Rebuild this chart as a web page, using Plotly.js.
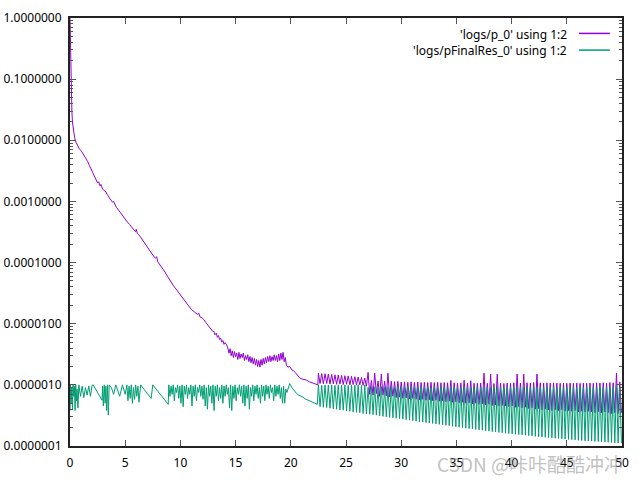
<!DOCTYPE html>
<html><head><meta charset="utf-8">
<script src="https://cdn.plot.ly/plotly-3.0.1.min.js"></script>
<style>html,body{margin:0;padding:0;background:#fff}#chart{width:640px;height:480px}</style>
</head><body><div id="chart"></div>
<script>
// ---- series 1: 'logs/p_0' (first part, t = 0 .. 22.45)
const pX1 = [
0,0.02,0.04,0.06,0.08,0.1,0.13,0.17,0.22,0.3,
0.42,0.54,0.7,0.85,1.0,1.15,1.3,1.45,1.6,1.75,
1.9,2.05,2.2,2.36,2.5,2.6,2.72,2.8,2.95,3.1,
3.26,3.35,3.45,3.55,3.7,3.85,3.95,4.08,4.2,4.4,
4.6,4.8,5.0,5.2,5.4,5.6,5.8,5.95,6.0,6.1,
6.2,6.4,6.6,6.8,7.0,7.2,7.4,7.6,7.75,7.85,
7.95,8.2,8.4,8.6,8.8,9.0,9.2,9.4,9.6,9.8,
9.96,10.2,10.4,10.6,10.8,11.0,11.2,11.4,11.55,11.65,
11.78,11.95,12.1,12.3,12.5,12.7,12.9,13.05,13.13,13.25,
13.35,13.45,13.55,13.65,13.75,13.85,13.95,14.05,14.19,14.3,
14.4,14.5,14.6,14.7,14.8,14.9,15.0,15.1,15.2,15.3,
15.4,15.5,15.6,15.7,15.8,15.9,16.0,16.1,16.2,16.3,
16.4,16.5,16.6,16.7,16.8,16.9,17.0,17.1,17.2,17.3,
17.4,17.5,17.6,17.7,17.8,17.9,18.0,18.1,18.2,18.3,
18.4,18.5,18.6,18.7,18.8,18.9,19.0,19.1,19.2,19.3,
19.4,19.5,19.6,19.75,19.9,20.1,20.25,20.4,20.6,20.8,
21.0,21.2,21.4,21.7,22.0,22.2,22.45];
const pY1 = [
1,0.6,0.35,0.2,0.12,0.075,0.045,0.03,0.02,0.014,
0.011,0.0093,0.008,0.0072,0.0068,0.0062,0.0056,0.005,0.0045,0.0039,
0.0034,0.0029,0.0025,0.0022,0.002,0.0021,0.0018,0.0019,0.0016,0.0015,
0.00144,0.0013,0.00125,0.00115,0.00105,0.00097,0.001,0.00087,0.0008,0.00072,
0.00064,0.00057,0.00051,0.00046,0.00042,0.00037,0.00034,0.00032,0.00035,0.0003,
0.00029,0.00026,0.00023,0.0002,0.00018,0.00016,0.000142,0.000125,0.000118,0.000125,
0.000103,0.00009,0.00008,0.00007,0.000061,0.000053,0.000047,0.000041,0.000037,0.000033,
0.000031,0.000027,0.000024,0.000021,0.000019,0.000017,0.000016,0.000015,0.0000142,0.000015,
0.0000129,0.0000125,0.0000118,0.0000105,0.0000094,0.0000084,0.0000076,0.0000074,0.0000066,0.000007,
6.0e-6,6.4e-6,5.5e-6,5.8e-6,5.0e-6,5.3e-6,4.6e-6,4.9e-6,4.5e-6,4.0e-6,
3.3e-6,3.9e-6,3.0e-6,3.6e-6,2.8e-6,3.5e-6,2.9e-6,3.3e-6,2.6e-6,3.4e-6,
2.7e-6,3.2e-6,2.8e-6,3.3e-6,2.5e-6,3.0e-6,2.6e-6,3.1e-6,2.4e-6,2.9e-6,
2.3e-6,2.8e-6,2.2e-6,2.7e-6,2.1e-6,2.6e-6,2.0e-6,2.5e-6,1.95e-6,2.6e-6,
2.1e-6,2.7e-6,2.2e-6,2.8e-6,2.3e-6,2.9e-6,2.4e-6,3.0e-6,2.4e-6,2.9e-6,
2.5e-6,3.1e-6,2.5e-6,3.0e-6,2.4e-6,3.2e-6,2.5e-6,3.3e-6,2.6e-6,3.4e-6,
2.4e-6,2.8e-6,2.1e-6,1.95e-6,2.0e-6,1.75e-6,1.7e-6,1.6e-6,1.45e-6,1.3e-6,
1.25e-6,1.22e-6,1.2e-6,1.12e-6,1.06e-6,1.03e-6,1.0e-6];

// ---- series 2: 'logs/pFinalRes_0' (first part, t = 0 .. 22.4)
const gX1 = [
0,0.04,0.1,0.16,0.22,0.28,0.34,0.4,0.46,0.52,
0.58,0.64,0.72,0.8,0.95,1.1,1.25,1.4,1.55,1.7,
1.85,2.0,2.1,2.9,2.95,3.02,3.1,3.18,3.25,3.32,
3.4,3.47,3.55,3.75,3.95,4.15,4.5,4.75,5.0,5.15,
5.25,5.35,5.45,5.55,5.65,5.75,5.85,5.95,6.05,6.15,
6.25,6.4,7.35,7.5,8.9,8.95,9.05,9.15,9.25,9.35,
9.45,9.55,9.65,9.75,9.85,9.95,10.05,10.15,10.25,10.35,
10.45,10.55,10.65,10.75,10.85,10.95,11.05,11.15,11.25,11.35,
11.45,11.55,11.65,11.75,11.85,11.95,12.05,12.15,12.25,12.35,
12.45,12.55,12.65,12.75,12.85,12.95,13.05,13.15,13.25,13.35,
13.45,13.55,13.65,13.75,13.85,13.95,14.05,14.15,14.25,14.35,
14.45,14.55,14.65,14.75,14.85,14.95,15.05,15.15,15.25,15.35,
15.45,15.55,15.65,15.75,15.85,15.95,16.05,16.15,16.25,16.35,
16.45,16.55,16.65,16.75,16.85,16.95,17.05,17.15,17.25,17.35,
17.45,17.55,17.65,17.75,17.85,17.95,18.05,18.15,18.25,18.35,
18.45,18.55,18.65,18.75,18.85,18.95,19.05,19.15,19.25,19.35,
19.45,19.55,19.65,19.75,19.9,20.1,20.3,20.5,20.7,20.9,
21.1,21.3,21.6,21.9,22.1,22.4];
const gY1 = [
3.8e-7,10e-7,5.0e-7,9.0e-7,4.0e-7,10e-7,6.5e-7,9.5e-7,3.8e-7,10e-7,
5.5e-7,8.5e-7,4.2e-7,10e-7,6.5e-7,9.5e-7,6.2e-7,9.0e-7,6.8e-7,9.6e-7,
6.5e-7,9.8e-7,10e-7,5.6e-7,9.5e-7,4.5e-7,10e-7,5.0e-7,9.5e-7,3.8e-7,
10e-7,3.2e-7,10e-7,9.0e-7,7.0e-7,10e-7,6.5e-7,10e-7,7.0e-7,10e-7,
5.5e-7,9.5e-7,6.0e-7,10e-7,5.0e-7,9.0e-7,5.8e-7,10e-7,6.5e-7,9.5e-7,
5.2e-7,10e-7,6.0e-7,10e-7,4.8e-7,10e-7,6.5e-7,9.5e-7,7.0e-7,10e-7,
5.5e-7,9.0e-7,7.5e-7,10e-7,6.0e-7,9.5e-7,5.0e-7,10e-7,4.4e-7,9.5e-7,
7.0e-7,10e-7,6.0e-7,9.0e-7,7.0e-7,10e-7,4.5e-7,9.5e-7,6.5e-7,10e-7,
5.5e-7,9.0e-7,7.5e-7,10e-7,6.5e-7,9.5e-7,5.8e-7,10e-7,4.5e-7,9.0e-7,
4.0e-7,10e-7,6.5e-7,9.5e-7,5.0e-7,10e-7,3.8e-7,9.5e-7,6.5e-7,10e-7,
5.5e-7,9.0e-7,6.0e-7,10e-7,5.0e-7,9.5e-7,6.5e-7,10e-7,7.0e-7,9.0e-7,
4.2e-7,10e-7,3.8e-7,9.5e-7,6.0e-7,10e-7,5.5e-7,9.0e-7,7.0e-7,10e-7,
6.5e-7,9.5e-7,5.0e-7,10e-7,4.5e-7,9.5e-7,6.0e-7,10e-7,4.0e-7,9.0e-7,
6.5e-7,10e-7,5.5e-7,9.5e-7,7.0e-7,10e-7,6.0e-7,9.0e-7,5.0e-7,10e-7,
6.5e-7,9.5e-7,5.5e-7,10e-7,7.0e-7,9.5e-7,6.0e-7,10e-7,7.5e-7,9.0e-7,
5.5e-7,10e-7,6.5e-7,9.5e-7,7.0e-7,10e-7,6.0e-7,9.0e-7,5.0e-7,9.5e-7,
5.0e-7,8.5e-7,7.5e-7,9.0e-7,10.5e-7,9.0e-7,8.0e-7,7.3e-7,6.8e-7,6.6e-7,
6.3e-7,5.9e-7,5.6e-7,5.2e-7,5.0e-7,4.8e-7];

// ---- second part (t = 22.5 .. 49.95), both series sampled at the same times
const x2 = [
22.5,22.65,22.8,22.95,23.1,23.25,23.4,23.55,23.7,23.85,
24,24.15,24.3,24.45,24.6,24.75,24.9,25.05,25.2,25.35,
25.5,25.65,25.8,25.95,26.1,26.25,26.4,26.55,26.7,26.85,
27,27.15,27.3,27.45,27.6,27.75,27.9,28.05,28.2,28.35,
28.5,28.65,28.8,28.95,29.1,29.25,29.4,29.55,29.7,29.85,
30,30.15,30.3,30.45,30.6,30.75,30.9,31.05,31.2,31.35,
31.5,31.65,31.8,31.95,32.1,32.25,32.4,32.55,32.7,32.85,
33,33.15,33.3,33.45,33.6,33.75,33.9,34.05,34.2,34.35,
34.5,34.65,34.8,34.95,35.1,35.25,35.4,35.55,35.7,35.85,
36,36.15,36.3,36.45,36.6,36.75,36.9,37.05,37.2,37.35,
37.5,37.65,37.8,37.95,38.1,38.25,38.4,38.55,38.7,38.85,
39,39.15,39.3,39.45,39.6,39.75,39.9,40.05,40.2,40.35,
40.5,40.65,40.8,40.95,41.1,41.25,41.4,41.55,41.7,41.85,
42,42.15,42.3,42.45,42.6,42.75,42.9,43.05,43.2,43.35,
43.5,43.65,43.8,43.95,44.1,44.25,44.4,44.55,44.7,44.85,
45,45.15,45.3,45.45,45.6,45.75,45.9,46.05,46.2,46.35,
46.5,46.65,46.8,46.95,47.1,47.25,47.4,47.55,47.7,47.85,
48,48.15,48.3,48.45,48.6,48.75,48.9,49.05,49.2,49.35,
49.5,49.65,49.8,49.95];
const pY2 = [
15.5e-7,10.5e-7,15.3e-7,10.4e-7,15.2e-7,10.5e-7,15.0e-7,10.3e-7,14.8e-7,10.4e-7,
14.6e-7,10.2e-7,14.5e-7,10.3e-7,14.3e-7,10.1e-7,14.1e-7,10.2e-7,14.0e-7,10.0e-7,
13.8e-7,10.1e-7,13.6e-7,9.9e-7,13.4e-7,10.0e-7,13.2e-7,9.8e-7,12.9e-7,9.5e-7,
16e-7,7.0e-7,11.8e-7,6.8e-7,15.5e-7,7.2e-7,11.6e-7,6.5e-7,15e-7,6.8e-7,
11.5e-7,6.6e-7,15.5e-7,6.4e-7,11.5e-7,6.5e-7,11.3e-7,6.2e-7,11.4e-7,6.3e-7,
11.1e-7,6.0e-7,11.2e-7,6.1e-7,11.0e-7,5.9e-7,11.2e-7,6.0e-7,11.0e-7,5.8e-7,
11.1e-7,5.7e-7,10.9e-7,5.8e-7,11.0e-7,5.6e-7,10.9e-7,5.7e-7,11.0e-7,5.5e-7,
10.9e-7,5.6e-7,11.0e-7,5.4e-7,10.8e-7,5.5e-7,10.9e-7,5.3e-7,10.8e-7,5.4e-7,
11.8e-7,5.2e-7,10.8e-7,5.3e-7,10.7e-7,5.1e-7,10.8e-7,5.2e-7,11.9e-7,5.0e-7,
10.7e-7,5.1e-7,11.7e-7,4.9e-7,10.6e-7,5.0e-7,10.6e-7,4.8e-7,10.7e-7,4.9e-7,
15.5e-7,4.7e-7,10.6e-7,4.8e-7,15e-7,4.6e-7,10.5e-7,4.7e-7,15e-7,4.5e-7,
10.6e-7,4.6e-7,10.5e-7,4.5e-7,10.7e-7,4.4e-7,10.6e-7,4.5e-7,10.8e-7,4.3e-7,
15e-7,4.4e-7,10.7e-7,4.2e-7,15e-7,4.3e-7,10.8e-7,4.1e-7,10.7e-7,4.2e-7,
10.9e-7,4.0e-7,15e-7,4.1e-7,10.8e-7,3.9e-7,10.7e-7,4.0e-7,10.8e-7,3.9e-7,
10.7e-7,3.8e-7,10.8e-7,3.9e-7,10.7e-7,3.8e-7,10.6e-7,3.9e-7,10.7e-7,3.7e-7,
10.6e-7,3.8e-7,10.7e-7,3.7e-7,10.6e-7,3.8e-7,10.7e-7,3.6e-7,10.6e-7,3.7e-7,
10.7e-7,3.6e-7,10.6e-7,3.7e-7,10.7e-7,3.6e-7,10.6e-7,3.5e-7,10.8e-7,3.6e-7,
10.7e-7,3.5e-7,10.8e-7,3.6e-7,10.7e-7,3.5e-7,10.9e-7,3.4e-7,10.8e-7,3.5e-7,
15.5e-7,3.4e-7,11.2e-7,3.5e-7];
const gY2 = [
10e-7,4.4e-7,9.8e-7,4.3e-7,10e-7,4.25e-7,9.9e-7,4.15e-7,10e-7,4.05e-7,
9.8e-7,4.0e-7,10e-7,3.9e-7,9.9e-7,3.85e-7,10e-7,3.75e-7,9.8e-7,3.7e-7,
10e-7,3.6e-7,9.9e-7,3.55e-7,10e-7,3.5e-7,9.8e-7,3.4e-7,10e-7,3.35e-7,
9.1e-7,3.3e-7,9.4e-7,3.25e-7,9.3e-7,3.2e-7,9.0e-7,3.1e-7,9.4e-7,3.05e-7,
9.2e-7,3.0e-7,9.3e-7,2.95e-7,9.4e-7,2.9e-7,9.1e-7,2.85e-7,9.3e-7,2.8e-7,
9.4e-7,2.75e-7,9.2e-7,2.7e-7,9.3e-7,2.65e-7,9.4e-7,2.6e-7,9.1e-7,2.55e-7,
9.3e-7,2.5e-7,9.4e-7,2.46e-7,9.2e-7,2.42e-7,9.3e-7,2.38e-7,9.0e-7,2.34e-7,
9.3e-7,2.3e-7,9.1e-7,2.26e-7,9.4e-7,2.22e-7,9.2e-7,2.18e-7,9.0e-7,2.14e-7,
9.3e-7,2.1e-7,9.1e-7,2.06e-7,9.2e-7,2.03e-7,9.0e-7,2.0e-7,9.3e-7,1.96e-7,
9.1e-7,1.93e-7,9.2e-7,1.9e-7,9.0e-7,1.87e-7,9.3e-7,1.84e-7,9.1e-7,1.81e-7,
9.4e-7,1.78e-7,9.2e-7,1.75e-7,9.3e-7,1.72e-7,9.1e-7,1.7e-7,9.4e-7,1.67e-7,
9.2e-7,1.65e-7,9.0e-7,1.62e-7,9.3e-7,1.6e-7,9.1e-7,1.58e-7,9.2e-7,1.56e-7,
9.4e-7,1.54e-7,9.1e-7,1.52e-7,9.3e-7,1.5e-7,9.2e-7,1.48e-7,9.0e-7,1.46e-7,
9.3e-7,1.44e-7,9.1e-7,1.42e-7,9.2e-7,1.41e-7,9.0e-7,1.39e-7,9.3e-7,1.37e-7,
9.1e-7,1.36e-7,9.2e-7,1.34e-7,9.0e-7,1.33e-7,9.3e-7,1.31e-7,9.1e-7,1.3e-7,
9.2e-7,1.28e-7,9.0e-7,1.27e-7,9.3e-7,1.26e-7,9.1e-7,1.24e-7,9.2e-7,1.23e-7,
9.0e-7,1.22e-7,9.3e-7,1.21e-7,9.1e-7,1.2e-7,9.2e-7,1.19e-7,9.0e-7,1.18e-7,
9.3e-7,1.17e-7,9.1e-7,1.16e-7,9.2e-7,1.15e-7,9.0e-7,1.14e-7,9.4e-7,1.13e-7,
9.6e-7,1.12e-7,9.2e-7,1.11e-7];

const seriesNames = ["'logs/p_0' using 1:2", "'logs/pFinalRes_0' using 1:2"];
const seriesColors = ['#9400d3', '#009e73'];
const xTickVals = [0,5,10,15,20,25,30,35,40,45,50];
const yTickVals = [1e-7,1e-6,1e-5,1e-4,1e-3,1e-2,1e-1,1];
const yMinorVals = [];
for (let e = -7; e < 0; e++) for (let m = 2; m <= 9; m++) yMinorVals.push(m * Math.pow(10, e));
const watermark = 'CSDN @咔咔酷酷冲冲';

const traces = [
  {x: pX1.concat(x2), y: pY1.concat(pY2), type:'scatter', mode:'lines', name: seriesNames[0],
   line:{color: seriesColors[0], width:1}, hoverinfo:'skip'},
  {x: gX1.concat(x2), y: gY1.concat(gY2), type:'scatter', mode:'lines', name: seriesNames[1],
   line:{color: seriesColors[1], width:1}, hoverinfo:'skip'}
];

const axisCommon = {
  showgrid:false, zeroline:false, showline:true, linecolor:'#222', linewidth:2,
  mirror:'allticks', ticks:'inside', ticklen:6, tickwidth:1, tickcolor:'#555',
  tickfont:{family:'Noto Sans, DejaVu Sans, sans-serif', size:12, color:'#000'}
};
const layout = {
  width:640, height:480,
  margin:{l:70, r:18, t:18, b:34, pad:0},
  paper_bgcolor:'#fff', plot_bgcolor:'#fff',
  showlegend:false,
  font:{family:'Noto Sans, DejaVu Sans, sans-serif', size:12, color:'#000'},
  xaxis: Object.assign({}, axisCommon, {range:[0,50], tickmode:'array', tickvals:xTickVals, ticklabelstandoff:5}),
  yaxis: Object.assign({}, axisCommon, {type:'log', range:[-7,0], tickmode:'array', tickvals:yTickVals,
    tickformat:'.7f', ticklabelstandoff:4,
    minor:{tickmode:'array', tickvals:yMinorVals, ticks:'inside', ticklen:3, tickwidth:1, tickcolor:'#555', showgrid:false}}),
  annotations:[
    {xref:'paper', yref:'paper', x:0.904, y:0.962, xanchor:'right', yanchor:'middle', showarrow:false,
     text: seriesNames[0], font:{family:'Noto Sans, DejaVu Sans, sans-serif', size:12, color:'#000'}},
    {xref:'paper', yref:'paper', x:0.904, y:0.923, xanchor:'right', yanchor:'middle', showarrow:false,
     text: seriesNames[1], font:{family:'Noto Sans, DejaVu Sans, sans-serif', size:12, color:'#000'}},
    {xref:'paper', yref:'paper', x:0.661, y:-0.04, xanchor:'left', yanchor:'middle', showarrow:false,
     text: watermark, font:{family:'Noto Sans CJK SC, Noto Sans, sans-serif', size:19, color:'rgba(140,140,140,0.55)'}}
  ],
  shapes:[
    {type:'line', xref:'paper', yref:'paper', x0:0.922, x1:0.978, y0:0.964, y1:0.964, line:{color:seriesColors[0], width:1.5}},
    {type:'line', xref:'paper', yref:'paper', x0:0.922, x1:0.978, y0:0.925, y1:0.925, line:{color:seriesColors[1], width:1.5}}
  ]
};
Plotly.newPlot('chart', traces, layout, {staticPlot:true, displayModeBar:false});
</script>
</body></html>
